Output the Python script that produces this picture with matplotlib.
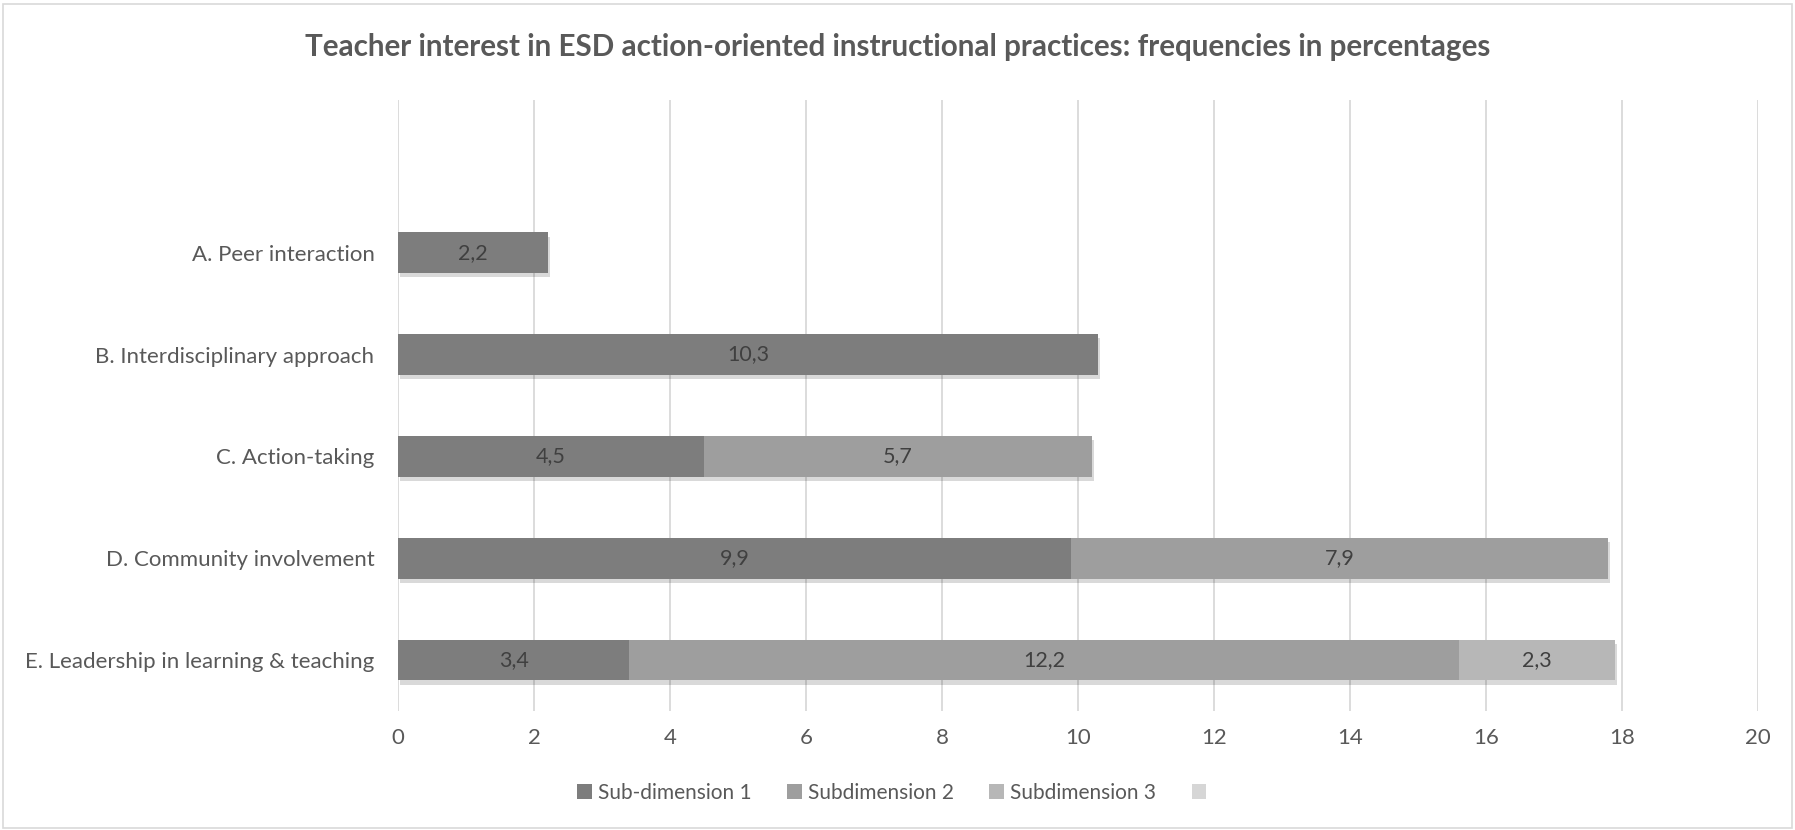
import matplotlib.pyplot as plt
import matplotlib.patheffects as pe
from matplotlib.patches import Rectangle, Patch

categories = ['A. Peer interaction',
              'B. Interdisciplinary approach',
              'C. Action-taking',
              'D. Community involvement',
              'E. Leadership in learning & teaching']
sub1 = [2.2, 10.3, 4.5, 9.9, 3.4]
sub2 = [0, 0, 5.7, 7.9, 12.2]
sub3 = [0, 0, 0, 0, 2.3]
series_names = ['Sub-dimension 1', 'Subdimension 2', 'Subdimension 3', ' ']
colours = ['#7d7d7d', '#9e9e9e', '#b7b7b7', '#d6d6d6']

plt.rcParams['font.family'] = ['Lato', 'DejaVu Sans']

fig = plt.figure(figsize=(17.95, 8.3), dpi=100)
ax = fig.add_axes([398/1795, 1-711/830, 1360/1795, 611/830])

# bottom category (E) at y=0
ypos = list(range(len(categories)))[::-1]
shadow = [pe.SimplePatchShadow(offset=(1.5, -3), shadow_rgbFace='#000000', alpha=0.15), pe.Normal()]

left = [0]*len(categories)
for vals, col in zip([sub1, sub2, sub3], colours):
    bars = ax.barh(ypos, vals, left=left, height=0.4, color=col, zorder=3)
    for b, v, l in zip(bars, vals, left):
        b.set_path_effects(shadow)
        if v > 0:
            ax.text(l + v/2, b.get_y() + b.get_height()/2, str(v).replace('.', ','),
                    ha='center', va='center', fontsize=15.5, color='#404040', zorder=4)
    left = [a + b for a, b in zip(left, vals)]

ax.set_xlim(0, 20)
ax.set_ylim(-0.5, 5.5)
ax.set_xticks(range(0, 21, 2))
ax.set_yticks(ypos)
ax.set_yticklabels(categories)
ax.tick_params(length=0, labelsize=16, colors='#595959')
ax.tick_params(axis='x', pad=12)
ax.tick_params(axis='y', pad=17)
ax.grid(axis='x', color='#d9d9d9', linewidth=1.3, zorder=0)
for s in ax.spines.values():
    s.set_visible(False)

fig.text(0.5, 1-47/830, 'Teacher interest in ESD action-oriented instructional practices: frequencies in percentages',
         ha='center', va='center', fontsize=21.3, fontweight='bold', color='#595959')

handles = [Patch(facecolor=c) for c in colours]
fig.legend(handles, series_names, loc='center', bbox_to_anchor=(0.5, 1-793/830), ncol=4,
           frameon=False, fontsize=15, labelcolor='#595959', handlelength=0.7, handleheight=0.7,
           handletextpad=0.3, columnspacing=1.7)

fig.patches.append(Rectangle((3/1795, 2/830), 1-6/1795, 1-6/830, transform=fig.transFigure,
                             fill=False, edgecolor='#d9d9d9', linewidth=1.2))

fig.savefig('out.png', dpi=100)
